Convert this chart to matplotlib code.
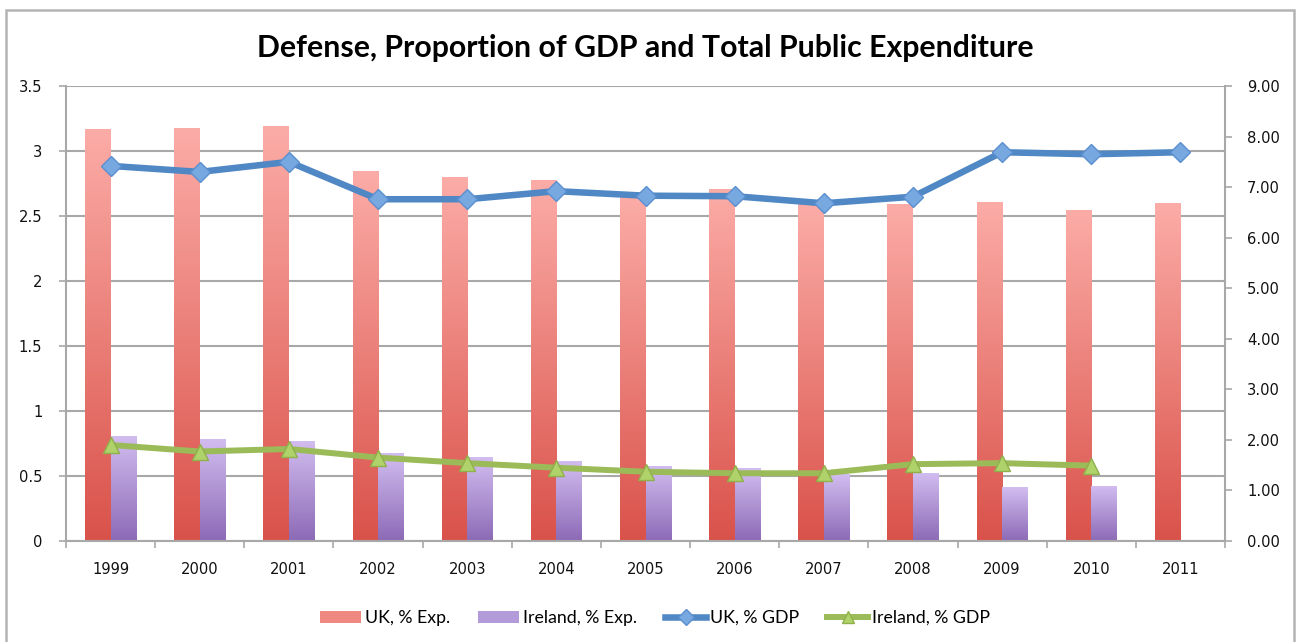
import numpy as np
import matplotlib
matplotlib.use("Agg")
import matplotlib.pyplot as plt
from matplotlib.colors import LinearSegmentedColormap
from matplotlib.lines import Line2D
from matplotlib.patches import Patch, Rectangle
from matplotlib.ticker import FixedLocator, FuncFormatter

# ---- data -------------------------------------------------------------
years = ['1999', '2000', '2001', '2002', '2003', '2004', '2005',
         '2006', '2007', '2008', '2009', '2010', '2011']
uk_exp = [3.17, 3.18, 3.19, 2.85, 2.80, 2.78, 2.65, 2.71, 2.59, 2.59, 2.61, 2.55, 2.60]
ie_exp = [0.81, 0.785, 0.77, 0.675, 0.645, 0.615, 0.58, 0.56, 0.515, 0.525, 0.415, 0.425, np.nan]
uk_gdp = [7.42, 7.30, 7.50, 6.76, 6.76, 6.92, 6.83, 6.82, 6.68, 6.81, 7.69, 7.65, 7.69]
ie_gdp = [1.90, 1.77, 1.82, 1.65, 1.54, 1.45, 1.37, 1.34, 1.34, 1.52, 1.54, 1.49, np.nan]

# ---- style ------------------------------------------------------------
UK_TOP, UK_BOT = '#fcaca7', '#d9524a'
IE_TOP, IE_BOT = '#d2bdf0', '#8c6ab6'
UK_LINE, UK_MARK = '#4f88c4', '#78a8e0'
IE_LINE, IE_MARK = '#9bbb59', '#b0d26a'
GRID = '#a8a8a8'
TICK_FONT = 10.6

fig = plt.figure(figsize=(12.96, 6.42), dpi=100)
fig.patch.set_facecolor('white')
# outer frame of the chart area
fig.add_artist(Rectangle((6 / 1296, -0.05), (1294 - 6) / 1296, (632 / 642) + 0.05,
                         transform=fig.transFigure, fill=False,
                         edgecolor='#b4b4b4', linewidth=1.8, zorder=0))

ax = fig.add_axes([66 / 1296, (642 - 541) / 642, (1225 - 66) / 1296, (541 - 86) / 642])
ax2 = ax.twinx()

x = np.arange(len(years))
w = 0.286


def gradient_fill(axis, patches, top, bottom):
    cmap = LinearSegmentedColormap.from_list('g', [bottom, top])
    grad = np.linspace(0, 1, 256).reshape(-1, 1)
    for p in patches:
        h = p.get_height()
        if not np.isfinite(h) or h <= 0:
            continue
        x0 = p.get_x()
        im = axis.imshow(grad, extent=[x0, x0 + p.get_width(), 0, h], origin='lower',
                         aspect='auto', cmap=cmap, zorder=2, interpolation='bilinear')
        im.set_clip_path(p)


uk_bars = ax.bar(x - w / 2, uk_exp, w, facecolor='none', edgecolor='none', zorder=2)
ie_bars = ax.bar(x + w / 2, ie_exp, w, facecolor='none', edgecolor='none', zorder=2)
gradient_fill(ax, uk_bars, UK_TOP, UK_BOT)
gradient_fill(ax, ie_bars, IE_TOP, IE_BOT)

ax2.plot(x, uk_gdp, color=UK_LINE, lw=4.7, marker='D', ms=10, mfc=UK_MARK,
         mec='#5b8fd0', mew=1.0, solid_capstyle='round', zorder=4)
ax2.plot(x, ie_gdp, color=IE_LINE, lw=4.3, marker='^', ms=12, mfc=IE_MARK,
         mec='#8fb04a', mew=1.0, solid_capstyle='round', zorder=4)

# ---- axes -------------------------------------------------------------
ax.set_xlim(-0.5, len(years) - 0.5)
ax.set_ylim(0, 3.5)
ax2.set_ylim(0, 9)

ax.set_yticks(np.arange(0, 3.51, 0.5))
ax.yaxis.set_major_formatter(FuncFormatter(lambda v, p: f'{v:g}'))
ax2.set_yticks(np.arange(0, 9.01, 1))
ax2.yaxis.set_major_formatter(FuncFormatter(lambda v, p: f'{v:.2f}'))

ax.set_xticks(x)
ax.set_xticklabels(years)
ax.xaxis.set_minor_locator(FixedLocator(np.arange(-0.5, len(years), 1.0)))
ax.tick_params(axis='x', which='major', length=0, pad=15, labelsize=TICK_FONT,
               labelcolor='#111111')
ax.tick_params(axis='x', which='minor', length=5, width=1.2, color=GRID, direction='out')
ax.tick_params(axis='y', length=5, width=1.2, color=GRID, pad=12, labelsize=TICK_FONT,
               labelcolor='#111111')
ax2.tick_params(axis='y', length=5, width=1.2, color=GRID, pad=11, labelsize=TICK_FONT,
                labelcolor='#111111')

ax.yaxis.grid(True, color=GRID, lw=1.5)
ax.set_axisbelow(True)
for a in (ax, ax2):
    for s in a.spines.values():
        s.set_visible(False)
ax.spines['left'].set_visible(True)
ax.spines['bottom'].set_visible(True)
ax2.spines['right'].set_visible(True)
for s in (ax.spines['left'], ax.spines['bottom'], ax2.spines['right']):
    s.set_color(GRID)
    s.set_linewidth(1.5)

fig.text(0.498, (642 - 48) / 642, 'Defense, Proportion of GDP and Total Public Expenditure',
         ha='center', va='center', fontsize=21.8, fontweight='bold', family='Lato')

handles = [
    Patch(facecolor='#ef8880', edgecolor='none'),
    Patch(facecolor='#b39ad8', edgecolor='none'),
    Line2D([], [], color=UK_LINE, lw=4.7, marker='D', ms=8, mfc=UK_MARK, mec='#5b8fd0'),
    Line2D([], [], color=IE_LINE, lw=4.3, marker='^', ms=9, mfc=IE_MARK, mec='#8fb04a'),
]
labels = ['UK, % Exp.', 'Ireland, % Exp.', 'UK, % GDP', 'Ireland, % GDP']
fig.legend(handles, labels, loc='center', bbox_to_anchor=(655 / 1296, (642 - 618) / 642),
           ncol=4, frameon=False, prop={'family': 'Lato', 'size': 12.8},
           handlelength=2.3, handletextpad=0.2, columnspacing=1.6)

fig.savefig('out.png', dpi=100, facecolor='white')
